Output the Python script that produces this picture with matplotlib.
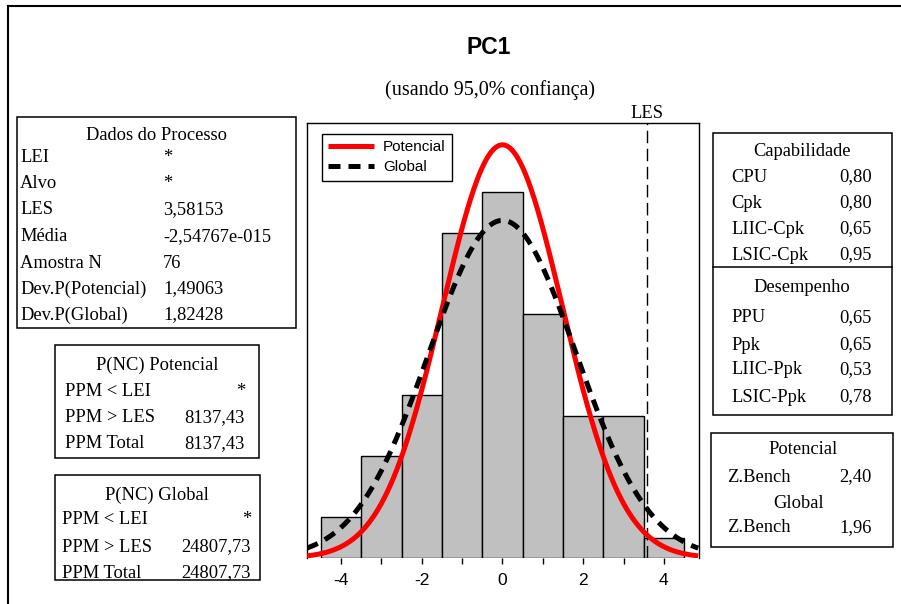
import numpy as np
import matplotlib
matplotlib.use('Agg')
import matplotlib.pyplot as plt
from matplotlib.patches import Rectangle
from matplotlib.lines import Line2D

plt.rcParams['axes.unicode_minus'] = False

# histogram of PC1 (bins of width 1 centred on integers)
bin_centers = [-4, -3, -2, -1, 0, 1, 2, 3, 4]
bin_counts = [2, 5, 8, 16, 18, 12, 7, 7, 1]

n_amostra = 76
media = 0.0
les = 3.58153
dp_potencial = 1.49063
dp_global = 1.82428

dados_labels = ['LEI', 'Alvo', 'LES', 'Média', 'Amostra N', 'Dev.P(Potencial)', 'Dev.P(Global)']
dados_values = ['*', '*', '3,58153', '-2,54767e-015', '76', '1,49063', '1,82428']

ppm_labels = ['PPM < LEI', 'PPM > LES', 'PPM Total']
ppm_potencial = ['*', '8137,43', '8137,43']
ppm_global = ['*', '24807,73', '24807,73']

cap_labels = ['CPU', 'Cpk', 'LIIC-Cpk', 'LSIC-Cpk']
cap_values = ['0,80', '0,80', '0,65', '0,95']
des_labels = ['PPU', 'Ppk', 'LIIC-Ppk', 'LSIC-Ppk']
des_values = ['0,65', '0,65', '0,53', '0,78']
zbench_potencial = '2,40'
zbench_global = '1,96'

W, H = 901, 604
fig = plt.figure(figsize=(W / 100, H / 100), dpi=100)
fig.patch.set_facecolor('white')

SERIF = 'Liberation Serif'
SANS = 'Liberation Sans'
FS = 13.3


def fx(px):
    return px / W


def fy(py):
    return 1 - py / H


def box(x0, y0, x1, y1, lw=1.1):
    fig.patches.append(Rectangle((fx(x0), fy(y1)), fx(x1) - fx(x0), fy(y0) - fy(y1),
                                 transform=fig.transFigure, fill=False,
                                 edgecolor='black', linewidth=lw))


def txt(x, y, s, ha='left', size=FS, **kw):
    fig.text(fx(x), fy(y), s, ha=ha, va='center', fontfamily=SERIF, fontsize=size, **kw)


# outer frame (left and top edges only visible)
fig.lines.append(Line2D([fx(8), fx(8)], [fy(6), fy(H + 5)], transform=fig.transFigure,
                        color='black', linewidth=1.5))
fig.lines.append(Line2D([fx(8), fx(W + 5)], [fy(6), fy(6)], transform=fig.transFigure,
                        color='black', linewidth=1.5))

# titles
fig.text(fx(489), fy(47), 'PC1', ha='center', va='center', fontfamily=SANS,
         fontweight='bold', fontsize=16.5)
txt(490, 90, '(usando 95,0% confiança)', ha='center', size=14.5)

# histogram panel
ax = fig.add_axes([fx(306.7), fy(558), fx(699) - fx(306.7), fy(123.3) - fy(558)])
ax.bar(bin_centers, bin_counts, width=1.0, color='#c0c0c0', edgecolor='black',
       linewidth=1.0, zorder=1)

xs = np.linspace(-4.85, 4.85, 500)
pot = n_amostra / (dp_potencial * np.sqrt(2 * np.pi)) * np.exp(-0.5 * ((xs - media) / dp_potencial) ** 2)
glo = n_amostra / (dp_global * np.sqrt(2 * np.pi)) * np.exp(-0.5 * ((xs - media) / dp_global) ** 2)
ax.plot(xs, pot, color='#ff0000', linewidth=3.6, label='Potencial', zorder=3,
        solid_capstyle='butt')
ax.plot(xs, glo, color='black', linewidth=3.6, linestyle=(0, (2.4, 1.6)), label='Global',
        zorder=4)
ax.axvline(les, color='black', linewidth=1.0, linestyle=(0, (9, 4)), zorder=2)

ax.set_xlim(-4.85, 4.87)
ax.set_ylim(0, 21.4)
ax.spines['bottom'].set_visible(False)
for side in ['left', 'top', 'right']:
    ax.spines[side].set_linewidth(1.0)
ax.set_yticks([])
ax.set_xticks([-4, -2, 0, 2, 4])
ax.set_xticks([-3, -1, 1, 3], minor=True)
ax.tick_params(axis='x', which='both', direction='out', length=4, width=1, pad=7,
               labelsize=12.5)
for lab in ax.get_xticklabels():
    lab.set_fontfamily(SANS)

leg = ax.legend(loc='upper left', bbox_to_anchor=(0.039, 0.975), borderaxespad=0,
                fancybox=False, edgecolor='black', framealpha=1, handlelength=3.0,
                borderpad=0.4, labelspacing=0.4, handletextpad=0.6,
                prop={'family': SANS, 'size': 11})
leg.get_frame().set_linewidth(1.0)

fig.text(fx(647), fy(113), 'LES', ha='center', va='center', fontfamily=SERIF, fontsize=FS)

# Dados do Processo
box(17, 117, 296, 328)
txt(157, 135, 'Dados do Processo', ha='center')
rows = [158, 184, 210, 237, 263, 289, 315]
for y, lab, val in zip(rows, dados_labels, dados_values):
    txt(20, y, lab)
    txt(163, y, val)

# P(NC) Potencial
box(55, 345, 259, 458)
txt(157, 365, 'P(NC) Potencial', ha='center')
for y, lab, val in zip([391, 418, 444], ppm_labels, ppm_potencial):
    txt(65, y, lab)
    txt(245, y, val, ha='right')

# P(NC) Global
box(55, 475, 260, 580)
txt(157, 495, 'P(NC) Global', ha='center')
for y, lab, val in zip([520, 547, 573], ppm_labels, ppm_global):
    txt(62, y, lab)
    txt(251, y, val, ha='right')

# Capabilidade / Desempenho
box(712.7, 132.7, 892, 415)
fig.lines.append(Line2D([fx(712.7), fx(892)], [fy(267.3), fy(267.3)],
                        transform=fig.transFigure, color='black', linewidth=1.1))
txt(802, 151, 'Capabilidade', ha='center')
for y, lab, val in zip([177, 203, 229, 255], cap_labels, cap_values):
    txt(731.7, y, lab)
    txt(871.7, y, val, ha='right')
txt(802, 288, 'Desempenho', ha='center')
for y, lab, val in zip([318, 345, 370, 397], des_labels, des_values):
    txt(731.7, y, lab)
    txt(871.7, y, val, ha='right')

# Z.Bench
box(710.7, 432.7, 893.3, 547.3)
txt(803, 450, 'Potencial', ha='center')
txt(726.7, 477, 'Z.Bench')
txt(871.7, 477, zbench_potencial, ha='right')
txt(799, 503, 'Global', ha='center')
txt(726.7, 528, 'Z.Bench')
txt(871.7, 528, zbench_global, ha='right')

fig.savefig('out.png', dpi=100, facecolor='white')
